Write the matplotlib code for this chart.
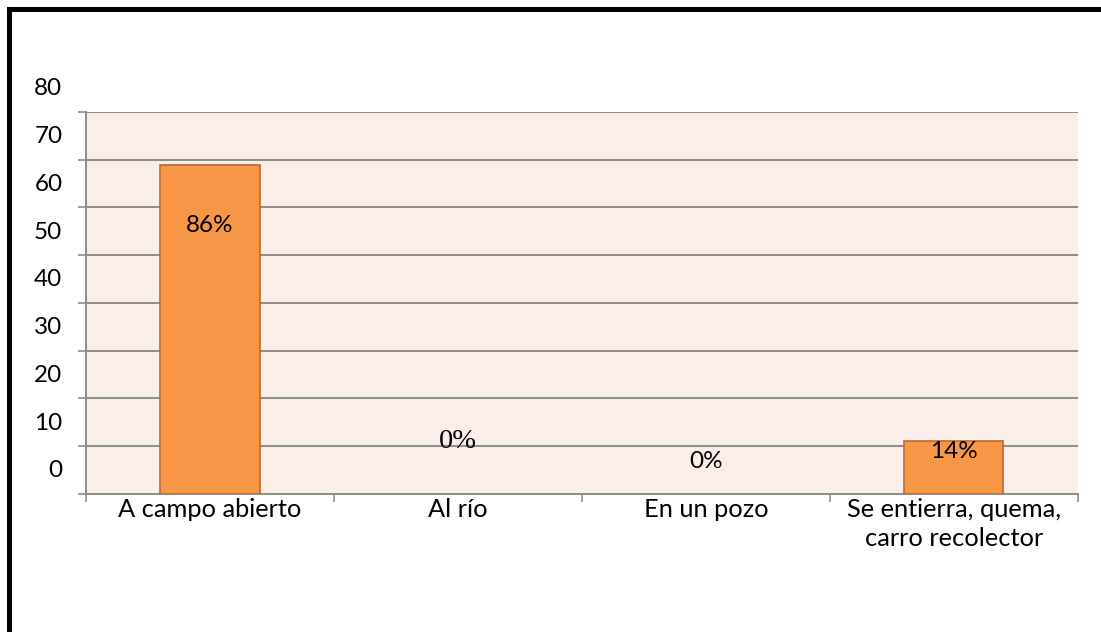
import matplotlib.pyplot as plt
import matplotlib.transforms as mtransforms
from matplotlib.lines import Line2D
import numpy as np

categories = ['A campo abierto', 'Al río', 'En un pozo', 'Se entierra, quema,\ncarro recolector']
values = [69, 0, 0, 11]
total = 80
yticks = [0, 10, 20, 30, 40, 50, 60, 70, 80]

# where each percentage label sits (data units) and its font
label_y = [56.3, 10.9, 6.7, 8.8]
label_font = [['Lato'], ['Liberation Serif', 'DejaVu Serif'], ['Lato'], ['Lato']]
label_size = [17.5, 20.5, 17.5, 17.5]

plt.rcParams['font.family'] = ['Lato', 'DejaVu Sans']

fig = plt.figure(figsize=(11.01, 6.32), dpi=100)
ax = fig.add_axes([0.0781, 0.2184, 0.9009, 0.6044])
ax.set_facecolor('#fbede8')

x = np.arange(len(categories))
edge_w = [1.2 if v > 0 else 0 for v in values]
ax.bar(x, values, width=0.4, color='#f79646', edgecolor='#b86b2e', linewidth=edge_w, zorder=3)

for i, v in enumerate(values):
    pct = round(v / total * 100)
    ax.text(x[i], label_y[i], f'{pct}%', ha='center', va='center',
            fontsize=label_size[i], family=label_font[i], zorder=4)

ax.set_xlim(-0.5, len(categories) - 0.5)
ax.set_ylim(0, 80)
ax.set_yticks(yticks)
ax.set_yticklabels([str(t) for t in yticks], fontsize=17.5)
ax.yaxis.grid(True, color='#8c8c8c', linewidth=1.4, zorder=1)
ax.tick_params(axis='y', length=6, width=1.2, color='#8c8c8c', pad=11)

# category labels centred, tick marks at the category boundaries
ax.set_xticks(x)
ax.set_xticklabels(categories, fontsize=18.3, linespacing=1.3)
ax.tick_params(axis='x', length=0, pad=3)
ax.set_xticks(np.arange(len(categories) + 1) - 0.5, minor=True)
ax.tick_params(axis='x', which='minor', length=6, width=1.2, color='#8c8c8c')

# value labels sit a bit above their gridlines, as in the original
offset = mtransforms.ScaledTranslation(0, 25 / 100, fig.dpi_scale_trans)
for lab in ax.get_yticklabels():
    lab.set_transform(lab.get_transform() + offset)

for side in ['top', 'right']:
    ax.spines[side].set_visible(False)
ax.spines['left'].set_color('#8c8c8c')
ax.spines['left'].set_linewidth(1.4)
ax.spines['bottom'].set_color('#8c8c8c')
ax.spines['bottom'].set_linewidth(1.4)

# black frame on the left and top
fig.add_artist(Line2D([0.0085, 0.0085], [0.0, 0.985], color='black', linewidth=3.6,
                      solid_capstyle='projecting'))
fig.add_artist(Line2D([0.0085, 1.0], [0.985, 0.985], color='black', linewidth=3.6,
                      solid_capstyle='projecting'))

plt.savefig('out.png', dpi=100)
